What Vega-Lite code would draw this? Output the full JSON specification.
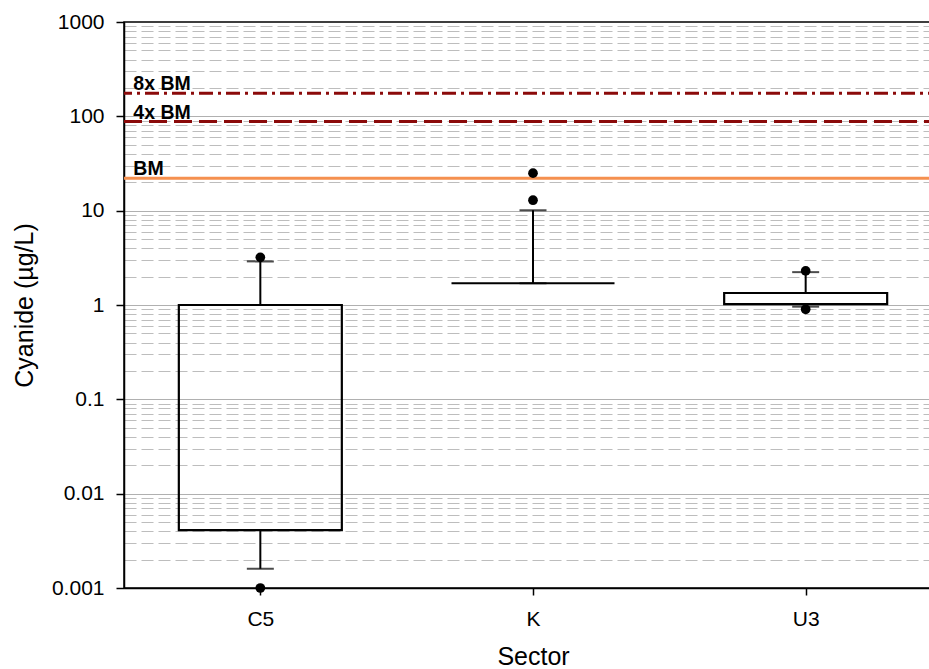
{
  "$schema": "https://vega.github.io/schema/vega-lite/v6.json",
  "autosize": {"type": "none"},
  "padding": {"left": 124, "top": 22, "right": 0, "bottom": 81},
  "width": 818,
  "height": 566,
  "background": "white",
  "config": {
    "font": "Liberation Sans",
    "view": {"stroke": "black", "strokeWidth": 1.5}
  },
  "datasets": {
    "boxes": [
      {"sector": "C5", "q1": 0.0041, "q3": 1.0, "lo": 0.0016, "hi": 2.9},
      {"sector": "K", "q1": 1.7, "q3": 1.7, "lo": 1.7, "hi": 10.1},
      {"sector": "U3", "q1": 1.02, "q3": 1.34, "lo": 0.96, "hi": 2.23}
    ],
    "outliers": [
      {"sector": "C5", "value": 3.2},
      {"sector": "C5", "value": 0.001},
      {"sector": "K", "value": 25},
      {"sector": "K", "value": 12.9},
      {"sector": "U3", "value": 2.3},
      {"sector": "U3", "value": 0.9}
    ],
    "limits": [
      {"label": "8x BM", "value": 176},
      {"label": "4x BM", "value": 88},
      {"label": "BM", "value": 22}
    ]
  },
  "layer": [
    {
      "data": {"name": "boxes"},
      "mark": {"type": "rule", "color": "black", "strokeWidth": 2},
      "encoding": {
        "x": {
          "field": "sector", "type": "nominal",
          "scale": {"type": "point", "domain": ["C5", "K", "U3"], "padding": 0.5},
          "axis": {
            "title": "Sector", "labelAngle": 0, "grid": false,
            "domainColor": "black", "domainWidth": 1.5,
            "tickColor": "black", "tickWidth": 1.5, "tickSize": 7,
            "labelFontSize": 21, "labelColor": "black", "labelPadding": 13,
            "titleFontSize": 25, "titleFontWeight": "normal", "titleColor": "black", "titlePadding": 15
          }
        },
        "y": {
          "field": "q3", "type": "quantitative",
          "scale": {"type": "log", "domain": [0.001, 1000], "nice": false},
          "axis": {
            "title": "Cyanide (µg/L)",
            "values": [0.001, 0.002, 0.003, 0.004, 0.005, 0.006, 0.007, 0.008, 0.009,
                       0.01, 0.02, 0.03, 0.04, 0.05, 0.06, 0.07, 0.08, 0.09,
                       0.1, 0.2, 0.3, 0.4, 0.5, 0.6, 0.7, 0.8, 0.9,
                       1, 2, 3, 4, 5, 6, 7, 8, 9,
                       10, 20, 30, 40, 50, 60, 70, 80, 90,
                       100, 200, 300, 400, 500, 600, 700, 800, 900, 1000],
            "format": "~g",
            "labelExpr": "abs(log(datum.value)/LN10 - round(log(datum.value)/LN10)) < 0.000001 ? datum.label : ''",
            "grid": true,
            "gridColor": {"condition": {"test": "abs(log(datum.value)/LN10 - round(log(datum.value)/LN10)) < 0.000001", "value": "#b0b0b0"}, "value": "#bdbdbd"},
            "gridDash": {"condition": {"test": "abs(log(datum.value)/LN10 - round(log(datum.value)/LN10)) < 0.000001", "value": []}, "value": [12, 5]},
            "gridOpacity": {"condition": {"test": "datum.value >= 999 || datum.value <= 0.0011", "value": 0}, "value": 1},
            "tickOpacity": {"condition": {"test": "abs(log(datum.value)/LN10 - round(log(datum.value)/LN10)) < 0.000001", "value": 1}, "value": 0},
            "gridWidth": 1.2,
            "tickColor": "black", "tickWidth": 1.5, "tickSize": 8,
            "domainColor": "black", "domainWidth": 1.5,
            "labelFontSize": 21, "labelColor": "black", "labelPadding": 12,
            "titleFontSize": 25, "titleFontWeight": "normal", "titleColor": "black", "titlePadding": 14
          }
        },
        "y2": {"field": "hi"}
      }
    },
    {
      "data": {"name": "limits"},
      "mark": {"type": "rule"},
      "encoding": {
        "y": {"field": "value", "type": "quantitative"},
        "color": {"field": "label", "type": "nominal", "scale": {"domain": ["8x BM", "4x BM", "BM"], "range": ["#8B0A0A", "#8B0A0A", "#F5904F"]}, "legend": null},
        "strokeDash": {"field": "label", "type": "nominal", "scale": {"domain": ["8x BM", "4x BM", "BM"], "range": [[14, 5, 3, 5], [18, 7], [1, 0]]}, "legend": null},
        "strokeWidth": {"field": "label", "type": "nominal", "scale": {"domain": ["8x BM", "4x BM", "BM"], "range": [3, 3, 2.5]}, "legend": null}
      }
    },
    {
      "data": {"name": "limits"},
      "mark": {"type": "text", "align": "left", "baseline": "alphabetic", "dx": -127, "dy": -3, "fontSize": 19.5, "fontWeight": "bold", "color": "black"},
      "encoding": {
        "x": {"datum": "C5", "type": "nominal"},
        "y": {"field": "value", "type": "quantitative"},
        "text": {"field": "label"}
      }
    },
    {
      "data": {"name": "boxes"},
      "mark": {"type": "rule", "color": "black", "strokeWidth": 2},
      "encoding": {
        "x": {"field": "sector", "type": "nominal"},
        "y": {"field": "q1", "type": "quantitative"},
        "y2": {"field": "lo"}
      }
    },
    {
      "data": {"name": "boxes"},
      "mark": {"type": "tick", "orient": "horizontal", "color": "black", "size": 27, "thickness": 2},
      "encoding": {
        "x": {"field": "sector", "type": "nominal"},
        "y": {"field": "hi", "type": "quantitative"}
      }
    },
    {
      "data": {"name": "boxes"},
      "mark": {"type": "tick", "orient": "horizontal", "color": "black", "size": 27, "thickness": 2},
      "encoding": {
        "x": {"field": "sector", "type": "nominal"},
        "y": {"field": "lo", "type": "quantitative"}
      }
    },
    {
      "data": {"name": "boxes"},
      "mark": {"type": "bar", "width": 163, "fill": "transparent", "stroke": "black", "strokeWidth": 2.2},
      "encoding": {
        "x": {"field": "sector", "type": "nominal"},
        "y": {"field": "q1", "type": "quantitative"},
        "y2": {"field": "q3"}
      }
    },
    {
      "data": {"name": "outliers"},
      "mark": {"type": "point", "filled": true, "color": "black", "size": 95, "opacity": 1},
      "encoding": {
        "x": {"field": "sector", "type": "nominal"},
        "y": {"field": "value", "type": "quantitative"}
      }
    }
  ]
}
